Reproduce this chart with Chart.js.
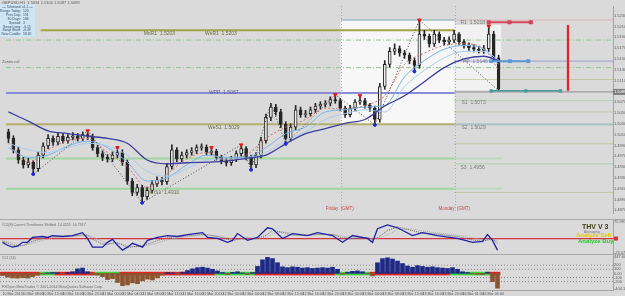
<!DOCTYPE html>
<html>
<head>
<meta charset="utf-8">
<title>GBPUSD,H1</title>
<script src="https://cdn.jsdelivr.net/npm/chart.js@4.4.1/dist/chart.umd.min.js"></script>
<style>
  html, body { margin: 0; padding: 0; background: #dadada; }
  #wrap { position: relative; width: 625px; height: 296px; overflow: hidden; background: #dadada; }
  #wrap canvas { position: absolute; left: 0; }
  .sep { position: absolute; left: 0; width: 625px; height: 1px; background: #a9a9a9; }
</style>
</head>
<body>
<div id="wrap">
  <canvas id="mainChart" width="625" height="219" style="top:0px"></canvas>
  <div class="sep" style="top:219px"></div>
  <canvas id="oscChart" width="625" height="34" style="top:220px"></canvas>
  <div class="sep" style="top:254px"></div>
  <canvas id="cciChart" width="625" height="41" style="top:255px"></canvas>
</div>
<script>
// H1 candles, index 0 = 10 Mar 04:00
const firstOpen = 1.5015;
const closes = [
  1.5003,1.4982,1.4963,1.4954,1.4959,1.4947,1.4972,1.4989,1.5003,1.4996,
  1.5007,1.4999,1.5005,1.5008,1.5003,1.5010,1.5007,1.4986,1.4975,1.4968,
  1.4965,1.4972,1.4977,1.4959,1.4924,1.4903,1.4912,1.4895,1.4907,1.4919,
  1.4926,1.4923,1.4951,1.4982,1.4965,1.4972,1.4977,1.4980,1.4986,1.4987,
  1.4977,1.4979,1.4968,1.4961,1.4958,1.4965,1.4975,1.4984,1.4968,1.4954,
  1.4972,1.4999,1.5042,1.5061,1.5052,1.5029,1.5003,1.5024,1.5056,1.5047,
  1.5049,1.5056,1.5063,1.5066,1.5068,1.5075,1.5073,1.5059,1.5047,1.5059,
  1.5070,1.5073,1.5064,1.5059,1.5038,1.5099,1.5140,1.5164,1.5169,1.5161,
  1.5157,1.5147,1.5138,1.5196,1.5192,1.5178,1.5196,1.5185,1.5182,1.5185,
  1.5196,1.5182,1.5175,1.5171,1.5168,1.5166,1.5169,1.5196,1.5152,1.5094];
const highs = [
  1.5020,1.5008,1.4987,1.4968,1.4966,1.4962,1.4978,1.4995,1.5010,1.5008,
  1.5013,1.5012,1.5010,1.5014,1.5012,1.5015,1.5017,1.5011,1.4990,1.4980,
  1.4973,1.4978,1.4986,1.4982,1.4963,1.4929,1.4918,1.4916,1.4913,1.4925,
  1.4932,1.4931,1.4957,1.4991,1.4986,1.4978,1.4982,1.4986,1.4991,1.4993,
  1.4991,1.4986,1.4983,1.4972,1.4966,1.4970,1.4980,1.4991,1.4988,1.4972,
  1.4977,1.5005,1.5048,1.5068,1.5066,1.5057,1.5034,1.5030,1.5064,1.5061,
  1.5055,1.5061,1.5068,1.5071,1.5073,1.5080,1.5084,1.5077,1.5063,1.5064,
  1.5075,1.5082,1.5077,1.5068,1.5063,1.5105,1.5147,1.5171,1.5178,1.5174,
  1.5166,1.5161,1.5152,1.5222,1.5203,1.5196,1.5203,1.5200,1.5190,1.5191,
  1.5203,1.5199,1.5186,1.5180,1.5176,1.5173,1.5175,1.5211,1.5201,1.5157];
const lows = [
  1.4995,1.4976,1.4957,1.4948,1.4949,1.4937,1.4942,1.4967,1.4984,1.4990,
  1.4991,1.4994,1.4994,1.5000,1.4998,1.4999,1.5001,1.4981,1.4969,1.4962,
  1.4959,1.4960,1.4967,1.4953,1.4918,1.4897,1.4898,1.4884,1.4890,1.4902,
  1.4914,1.4917,1.4918,1.4946,1.4960,1.4960,1.4967,1.4972,1.4975,1.4981,
  1.4972,1.4972,1.4963,1.4956,1.4952,1.4953,1.4960,1.4970,1.4963,1.4945,
  1.4949,1.4967,1.4994,1.5036,1.5046,1.5023,1.4993,1.4998,1.5019,1.5042,
  1.5042,1.5044,1.5051,1.5058,1.5061,1.5063,1.5068,1.5054,1.5042,1.5043,
  1.5054,1.5066,1.5059,1.5053,1.5028,1.5033,1.5094,1.5135,1.5158,1.5155,
  1.5151,1.5141,1.5127,1.5133,1.5186,1.5172,1.5173,1.5180,1.5176,1.5177,
  1.5180,1.5177,1.5170,1.5166,1.5163,1.5161,1.5160,1.5164,1.5146,1.5091];

// moving averages, read every 4th bar
const maIdx  = [0,4,8,12,16,20,24,28,32,36,40,44,48,52,56,60,64,68,72,76,80,84,88,92,96,99];
const maSlow = [1.5052,1.5035,1.5017,1.5012,1.5007,1.5003,1.4994,1.4963,1.4956,1.4958,1.4959,1.4961,1.4966,1.4972,1.4993,1.5012,1.5021,1.5031,1.5038,1.5063,1.5082,1.5108,1.5134,1.5150,1.5155,1.5147];
const maMid  = [1.4986,1.4968,1.4972,1.4989,1.4998,1.4986,1.4959,1.4924,1.4930,1.4954,1.4972,1.4968,1.4968,1.4986,1.5012,1.5024,1.5052,1.5056,1.5061,1.5064,1.5117,1.5147,1.5168,1.5175,1.5168,1.5140];
const maMid2 = [1.4994,1.4982,1.4977,1.4986,1.4994,1.4989,1.4972,1.4942,1.4933,1.4947,1.4963,1.4965,1.4966,1.4977,1.4999,1.5015,1.5038,1.5049,1.5056,1.5052,1.5099,1.5129,1.5152,1.5164,1.5164,1.5148];
const maFast = [1.4994,1.4959,1.4982,1.4999,1.5003,1.4977,1.4951,1.4912,1.4937,1.4965,1.4977,1.4963,1.4972,1.5003,1.5024,1.5038,1.5059,1.5057,1.5064,1.5082,1.5140,1.5161,1.5175,1.5178,1.5169,1.5129];

const zzIdx   = [5,16,27,47,49,53,56,66,74,83,99];
const zzPrice = [1.4937,1.5017,1.4884,1.4991,1.4945,1.5068,1.4993,1.5084,1.5028,1.5222,1.5091];
const fractalUp   = [16,22,41,47,66,71,83,97];
const fractalDown = [5,27,49,56,74,82];

// pivots and levels
const dayHigh = 1.5222, r1 = 1.5218, mnR1 = 1.5203, weR1 = 1.5203, pp = 1.5146;
const wpp = 1.5087, bid = 1.5089, s1 = 1.5073, s2 = 1.5029, weS1 = 1.5029, s3 = 1.4956, mnS1 = 1.4910;
const zoneLines = [1.5185, 1.5134];
const supportLines = [1.4966, 1.4910];
const rightDotted = [1.5112, 1.5052, 1.4993, 1.4903];
const rangeBar = [1.5091, 1.5213];
const priceTicks = [1.5230,1.5210,1.5190,1.5170,1.5150,1.5130,1.5110,1.5090,1.5070,1.5050,1.5030,1.5010,1.4990,1.4970,1.4950,1.4930,1.4910,1.4890,1.4870];

const fridayIdx = 67.1, mondayIdx = 90.1;
const boxFrom = [67.1, 90.1], boxTo = [90.1, 99.5];
const boxTop = [1.5222, 1.5213], boxBottom = [1.5029, 1.5092];

// oscillator pane
const oscIdx = [0,1,2,3,4,5,6,8,9,10,12,14,16,17,18,20,21,22,23,24,25,26,28,29,31,33,35,37,40,41,43,45,46,47,49,51,53,54,56,58,61,63,66,68,70,73,74,75,77,79,82,84,87,91,94,96,97,98,99];
const oscMain = [10.9,2.4,-3.2,-0.4,10.9,10.9,25.1,27.9,25.1,30.7,27.9,30.7,39.2,22.2,-3.2,-3.2,10.9,19.4,2.4,-11.7,-3.2,8.1,-3.2,16.6,25.1,30.7,27.9,33.5,39.2,25.1,22.2,10.9,16.6,36.4,16.6,25.1,53.3,50.5,22.2,36.4,30.7,39.2,30.7,10.9,30.7,22.2,10.9,50.5,61.8,53.3,30.7,39.2,30.7,22.2,10.9,13.7,33.5,16.6,-11.7];
const oscSignal = [14,9,3,0,2,7,14,22,25,27,28,29,33,32,20,6,4,9,10,3,-4,-2,1,6,16,24,28,30,34,33,28,20,15,20,24,22,34,46,40,32,31,34,34,24,22,25,20,25,45,56,45,38,35,28,18,14,18,22,8];
const oscSignal2 = [16,13,8,4,2,4,9,16,21,24,27,28,30,31,26,14,8,7,8,6,1,-2,-1,2,9,18,24,28,31,32,30,25,20,19,21,22,27,37,42,37,33,33,34,29,25,24,22,22,33,48,50,44,38,32,24,18,17,19,14];
const oscLevel = 22;
const oscMin = -23.08, oscMax = 75.99;
const oscTickVals = [71, -19];
const oscTickText = ['75.9935', '-23.0796'];

// CCI histogram pane
const cci14 = [
  -50,-90,-110,-115,-105,-115,-80,-40,
  -15,10,20,15,-10,20,40,
  110,130,40,-30,-40,
  -80,-150,-130,-220,-300,-280,-230,-250,-180,-140,-160,-110,
  -40,20,10,-20,30,
  70,110,140,150,130,100,60,
  20,-30,25,40,10,-25,20,
  170,330,390,360,260,160,
  140,160,150,130,140,120,130,140,130,150,100,
  -20,30,50,60,40,-10,-60,
  260,360,380,350,300,240,180,150,
  190,170,150,160,140,130,120,140,100,
  40,20,-10,-20,-30,30,-200,-360];
const bandState = [
  -1,-1,-1,-1,-1,-1,-1,-1, 1,1,1, -1,-1,-1,-1,-1,-1,-1,-1, 1,1,1,1,1,
  -1,-1,-1,-1,-1,-1,-1,-1,-1,-1,-1,-1,-1,-1,-1,-1,-1,-1,-1,
  1,1,1,1,1,1,1,1,
  -1,-1,-1,-1,-1,-1,-1,-1,-1,-1,-1,-1,-1,-1,-1,-1,
  1,1,1,1,1,1,1,
  -1,-1,-1,-1,-1,-1,-1,-1,-1,-1,-1,-1,-1,-1,-1,-1,
  1,1,1,1,1,1,1,1, -1,-1];
const cciLevels = [200, 100, -100, -200];
const histMin = -404.133, histMax = 447.609;
const histTickVals = [400, 200, 100, 0, -100, -200, -380];
const histTickText = ['447.609', '200', '100', '0.00', '-100', '-200', '-404.133'];

const timeIdx = [0,4,8,12,16,20,24,28,32,36,40,44,48,52,56,60,64,68,72,76,80,84,88,92,96];
const timeLabels = ['10 Mar 2015','10 Mar 08:00','10 Mar 12:00','10 Mar 16:00','10 Mar 20:00',
  '11 Mar 00:00','11 Mar 04:00','11 Mar 08:00','11 Mar 12:00','11 Mar 16:00','11 Mar 20:00',
  '12 Mar 00:00','12 Mar 04:00','12 Mar 08:00','12 Mar 12:00','12 Mar 16:00','12 Mar 20:00',
  '13 Mar 00:00','13 Mar 04:00','13 Mar 08:00','13 Mar 12:00','13 Mar 16:00','13 Mar 20:00',
  '16 Mar 01:00','16 Mar 05:00'];

const opens = closes.map((c, i) => i === 0 ? firstOpen : closes[i - 1]);
const lastIdx = closes.length - 1;
const xMin = -0.5, xMax = 122.1;
const priceMin = 1.4865, priceMax = 1.5248;
const FONT = '"Liberation Sans", Arial, sans-serif';

function seg(x0, x1, price, color, width, dash) {
  return {
    type: 'line',
    data: [{x: x0, y: price}, {x: x1, y: price}],
    borderColor: color, borderWidth: width, borderDash: dash || [],
    pointRadius: 0, order: 10
  };
}

function series(idx, vals, color, width, dash, order, smooth) {
  return {
    type: 'line',
    data: idx.map((v, k) => ({x: v, y: vals[k]})),
    borderColor: color, borderWidth: width, borderDash: dash || [],
    pointRadius: 0, order: order,
    cubicInterpolationMode: smooth ? 'monotone' : 'default', tension: 0
  };
}

function rightAxis(min, max, tickVals, fmt) {
  return {
    type: 'linear', position: 'right', min: min, max: max,
    grid: {display: false, drawTicks: false},
    border: {display: true, color: '#a4a4a4'},
    ticks: {font: {size: 4, family: FONT}, color: '#5c5c5c', padding: 1, autoSkip: false, callback: fmt},
    afterBuildTicks: s => { s.ticks = tickVals.map(v => ({value: v})); },
    afterFit: s => { s.width = 12; s.paddingTop = 0; s.paddingBottom = 0; }
  };
}

const hiddenX = {type: 'linear', min: xMin, max: xMax, display: false, offset: false};

const baseOptions = {
  responsive: false, animation: false, events: [],
  layout: {padding: 0},
  plugins: {legend: {display: false}, tooltip: {enabled: false}}
};

// ---------- main pane ----------
const mainDecor = {
  id: 'mainDecor',
  beforeDatasetsDraw(chart) {
    const {ctx, chartArea: a, scales: {x, y}} = chart;
    ctx.save();
    ctx.beginPath(); ctx.rect(a.left, a.top, a.width, a.height); ctx.clip();
    const fills = ['#f7f7f7', '#f1f1f1'];
    boxFrom.forEach((b, k) => {
      const x0 = x.getPixelForValue(b), x1 = x.getPixelForValue(boxTo[k]);
      const y0 = y.getPixelForValue(boxTop[k]), y1 = y.getPixelForValue(boxBottom[k]);
      ctx.fillStyle = fills[k];
      ctx.fillRect(x0, y0, x1 - x0, y1 - y0);
    });
    ctx.strokeStyle = '#b5b57a'; ctx.lineWidth = 1; ctx.setLineDash([1, 2]);
    [fridayIdx, mondayIdx].forEach(v => {
      const px = Math.round(x.getPixelForValue(v)) + 0.5;
      ctx.beginPath(); ctx.moveTo(px, a.top); ctx.lineTo(px, a.bottom); ctx.stroke();
    });
    ctx.restore();
  },
  afterDatasetsDraw(chart) {
    const {ctx, scales: {x, y}} = chart;
    ctx.save();
    ctx.font = `5px ${FONT}`;
    ctx.textAlign = 'left';
    const put = (txt, idx, price, color, base, dy) => {
      ctx.fillStyle = color; ctx.textBaseline = base;
      ctx.fillText(txt, x.getPixelForValue(idx), y.getPixelForValue(price) + (dy || 0));
    };
    put(`MnR1  ${mnR1.toFixed(4)}`, 27.3, mnR1, '#6a6a44', 'top', 1);
    put(`WeR1  ${weR1.toFixed(4)}`, 39.7, weR1, '#6a6a44', 'top', 1);
    put(`WPP  ${wpp.toFixed(4)}`, 40.5, wpp, '#5a5a96', 'middle', 0);
    put(`WeS1  ${weS1.toFixed(4)}`, 40.3, weS1, '#6a6a44', 'top', 1);
    put(`MnS1  ${mnS1.toFixed(4)}`, 28.2, mnS1, '#6a6a44', 'top', 1);
    put(`R1  ${r1.toFixed(4)}`, 91.3, r1, '#7a7a7a', 'middle', 0);
    put(`PP  ${pp.toFixed(4)}`, 91.8, pp, '#7a7a9a', 'middle', 0);
    put(`S1  ${s1.toFixed(4)}`, 91.5, s1, '#7a7a7a', 'top', 0);
    put(`S2  ${s2.toFixed(4)}`, 91.5, s2, '#7a7a7a', 'top', 1);
    put(`S3  ${s3.toFixed(4)}`, 91.3, s3, '#7a7a7a', 'top', 1);
    ctx.font = `4.5px ${FONT}`;
    ctx.fillStyle = '#c04a4a'; ctx.textBaseline = 'bottom';
    ctx.fillText('Friday  (GMT)', x.getPixelForValue(fridayIdx) - 15, chart.chartArea.bottom - 2);
    ctx.fillText('Monday  (GMT)', x.getPixelForValue(mondayIdx) - 16, chart.chartArea.bottom - 2);
    // bid tag on the price axis
    const py = y.getPixelForValue(bid);
    ctx.fillStyle = '#7c7c7c';
    ctx.fillRect(x.right, py - 3, 12, 6);
    ctx.fillStyle = '#ffffff'; ctx.font = `4px ${FONT}`; ctx.textBaseline = 'middle';
    ctx.fillText(bid.toFixed(4), x.right + 1, py);
    ctx.restore();
  },
  afterDraw(chart) {
    const {ctx} = chart;
    ctx.save();
    ctx.font = `4px ${FONT}`;
    ctx.fillStyle = '#5a5a5a'; ctx.textBaseline = 'top'; ctx.textAlign = 'left';
    ctx.fillText('GBPUSD,H1  1.5094 1.5100 1.5087 1.5089', 2, 0.5);
    ctx.fillText('Zones.col', 2, 60);
    // info panel
    ctx.fillStyle = '#cde6f6';
    ctx.fillRect(0, 4, 35, 33);
    ctx.fillStyle = '#3c4a66';
    ctx.font = `3.4px ${FONT}`;
    ctx.textAlign = 'center';
    ctx.fillText('--- Tahmaniii v1.1 ---', 17.5, 5);
    const info = [['Range Today:', '120'], ['Prev Day:', '191'], ['30 Days:', '186'], ['Spread:', '3'],
                  ['Swap Long:', '-0.15'], ['Swap Short:', '-0.49'], ['New Candle:', '58:45']];
    info.forEach((r, k) => {
      ctx.textAlign = 'right'; ctx.fillText(r[0], 21, 9.3 + k * 3.9);
      ctx.textAlign = 'left';  ctx.fillText(r[1], 23, 9.3 + k * 3.9);
    });
    ctx.restore();
  }
};

const mainSets = [
  ...zoneLines.map(p => seg(xMin, xMax, p, '#8fca8f', 1, [5, 2, 1, 2])),
  seg(6.5, mondayIdx, mnR1, '#a3a34a', 2),
  seg(fridayIdx, mondayIdx, dayHigh, '#79a9b1', 1),
  seg(mondayIdx, xMax, dayHigh, '#e2a3ab', 1.5, [1, 1]),
  seg(xMin, mondayIdx, wpp, '#8b8bd9', 2),
  seg(mondayIdx, xMax, bid, '#8c8c8c', 1),
  seg(xMin, mondayIdx, weS1, '#b3af6e', 2),
  seg(mondayIdx, xMax, s2, '#6fb1a8', 2, [1, 1]),
  ...supportLines.map(p => seg(xMin, mondayIdx, p, '#a0d6a0', 2)),
  ...supportLines.map(p => seg(mondayIdx, lastIdx + 0.5, p, '#a0d6a0', 2, [1, 1])),
  seg(mondayIdx, xMax, pp, '#9a9ad2', 2, [1, 1]),
  seg(mondayIdx, xMax, s1, '#8fc78f', 1, [1, 1]),
  seg(mondayIdx, xMax, s3, '#8fc78f', 1, [1, 1]),
  ...rightDotted.map(p => seg(mondayIdx, xMax, p, '#b2b270', 1, [1, 1])),
  {
    type: 'bar', grouped: false, order: 6,
    data: closes.map((c, i) => ({x: i, y: [lows[i], highs[i]]})),
    backgroundColor: '#262626', barThickness: 1
  },
  {
    type: 'bar', grouped: false, order: 5,
    data: closes.map((c, i) => ({x: i, y: [opens[i], c]})),
    backgroundColor: closes.map((c, i) => c >= opens[i] ? '#ececec' : '#262626'),
    borderColor: '#262626', borderWidth: 1, borderSkipped: false,
    barThickness: 3, minBarLength: 1
  },
  series(maIdx, maMid2, '#a9cdef', 1, [], 4, true),
  series(maIdx, maMid, '#78b2e6', 1, [], 4, true),
  series(maIdx, maFast, '#d46c6c', 1, [2, 2], 4, true),
  series(maIdx, maSlow, '#3d3d9e', 1.3, [], 3, true),
  series(zzIdx, zzPrice, '#4a4a4a', 1, [1, 2], 2, false),
  {
    type: 'line', showLine: false, order: 1,
    data: fractalUp.map(i => ({x: i, y: highs[i]})),
    pointStyle: 'triangle', pointRadius: 2, rotation: 180,
    pointBackgroundColor: '#e01818', pointBorderColor: '#e01818'
  },
  {
    type: 'line', showLine: false, order: 1,
    data: fractalDown.map(i => ({x: i, y: lows[i]})),
    pointStyle: 'circle', pointRadius: 1.5,
    pointBackgroundColor: '#1e2ad0', pointBorderColor: '#1e2ad0'
  },
  {
    type: 'line', order: 1,
    data: [97, 101.2, 105.5].map(v => ({x: v, y: r1})),
    borderColor: '#d3475a', borderWidth: 2, pointStyle: 'rect', pointRadius: 1.5,
    pointBackgroundColor: '#d3475a', pointBorderColor: '#d3475a'
  },
  {
    type: 'line', order: 1,
    data: [97.5, 101.3, 105].map(v => ({x: v, y: pp})),
    borderColor: '#5a9ad8', borderWidth: 2, pointStyle: 'rect', pointRadius: 1.3,
    pointBackgroundColor: '#5a9ad8', pointBorderColor: '#5a9ad8'
  },
  {
    type: 'line', order: 1,
    data: [97.5, 104.5, 111.5].map(v => ({x: v, y: rangeBar[0]})),
    borderColor: '#4a9a9a', borderWidth: 1.5, pointStyle: 'rect', pointRadius: 1.3,
    pointBackgroundColor: '#4a9a9a', pointBorderColor: '#4a9a9a'
  },
  {
    type: 'line', order: 1,
    data: rangeBar.map(v => ({x: 113, y: v})),
    borderColor: '#e42424', borderWidth: 2.2, pointRadius: 0
  }
];

new Chart(document.getElementById('mainChart'), {
  type: 'bar',
  data: {datasets: mainSets},
  options: Object.assign({}, baseOptions, {
    scales: {
      x: hiddenX,
      y: rightAxis(priceMin, priceMax, priceTicks, v => v.toFixed(4))
    }
  }),
  plugins: [mainDecor]
});

// ---------- oscillator pane ----------
const oscDecor = {
  id: 'oscDecor',
  afterDraw(chart) {
    const {ctx, chartArea: a, scales: {y}} = chart;
    ctx.save();
    ctx.textAlign = 'left'; ctx.textBaseline = 'middle';
    ctx.font = `3.6px ${FONT}`; ctx.fillStyle = '#6a6a6a';
    ctx.fillText('CCI(8) Current Timeframe Shifted  14.4255  16.7917', 2, 5);
    const py = y.getPixelForValue(oscLevel);
    ctx.fillStyle = '#d8343e';
    ctx.fillRect(a.right + 1, py - 2, 4, 4);
    ctx.font = `bold 7px ${FONT}`; ctx.fillStyle = '#3c3c14';
    ctx.fillText('THV V 3', 582, 7);
    ctx.font = `3.5px ${FONT}`; ctx.fillStyle = '#777777';
    ctx.fillText('Averaging', 584, 12);
    ctx.font = `bold 6px ${FONT}`;
    ctx.fillStyle = '#e6c800'; ctx.fillText('Analyze Sell', 576, 15.5);
    ctx.fillStyle = '#1fcc1f'; ctx.fillText('Analyze Buy', 578, 21);
    ctx.restore();
  }
};

new Chart(document.getElementById('oscChart'), {
  type: 'line',
  data: {
    datasets: [
      seg(xMin, xMax, oscLevel, '#d8343e', 1.2),
      series(oscIdx, oscSignal2, '#a8a8a8', 1, [1, 1], 4, false),
      series(oscIdx, oscSignal, '#6a6a6a', 1, [1, 1], 3, false),
      series(oscIdx, oscMain, '#2121a5', 1.3, [], 1, false)
    ]
  },
  options: Object.assign({}, baseOptions, {
    scales: {
      x: hiddenX,
      y: rightAxis(oscMin, oscMax, oscTickVals, (v, i) => oscTickText[i])
    }
  }),
  plugins: [oscDecor]
});

// ---------- CCI histogram pane ----------
const cciDecor = {
  id: 'cciDecor',
  afterDraw(chart) {
    const {ctx} = chart;
    ctx.save();
    ctx.textAlign = 'left'; ctx.textBaseline = 'middle';
    ctx.font = `3.6px ${FONT}`; ctx.fillStyle = '#6a6a6a';
    ctx.fillText('CCI (14)', 2, 3);
    ctx.fillText('FXOpen MetaTrader, \u00a9 2001-2014 MetaQuotes Software Corp.', 2, 31.5);
    ctx.restore();
  }
};

new Chart(document.getElementById('cciChart'), {
  type: 'bar',
  data: {
    datasets: [
      ...cciLevels.map(p => seg(xMin, xMax, p, '#8a8a8a', 1, [1, 2])),
      {
        type: 'bar', grouped: false, order: 3,
        data: bandState.map((s, i) => ({x: i, y: [-40, 30]})),
        backgroundColor: bandState.map(s => s > 0 ? '#3fd23f' : '#e02424'),
        barThickness: 5
      },
      {
        type: 'bar', grouped: false, order: 1,
        data: cci14.map((v, i) => ({x: i, y: v})),
        backgroundColor: cci14.map(v => v >= 0 ? '#1f2a86' : '#8a5530'),
        barThickness: 4
      }
    ]
  },
  options: Object.assign({}, baseOptions, {
    scales: {
      x: {
        type: 'linear', position: 'bottom', min: xMin, max: xMax, offset: false,
        grid: {display: true, drawOnChartArea: false, drawTicks: true, tickLength: 2, color: '#8a8a8a'},
        border: {display: true, color: '#a4a4a4'},
        ticks: {font: {size: 3.6, family: FONT}, color: '#505050', padding: 0, align: 'start',
                autoSkip: false, maxRotation: 0, callback: (v, i) => timeLabels[i]},
        afterBuildTicks: s => { s.ticks = timeIdx.map(v => ({value: v})); },
        afterFit: s => { s.height = 6; s.paddingLeft = 0; s.paddingRight = 0; }
      },
      y: rightAxis(histMin, histMax, histTickVals, (v, i) => histTickText[i])
    }
  }),
  plugins: [cciDecor]
});
</script>
</body>
</html>
